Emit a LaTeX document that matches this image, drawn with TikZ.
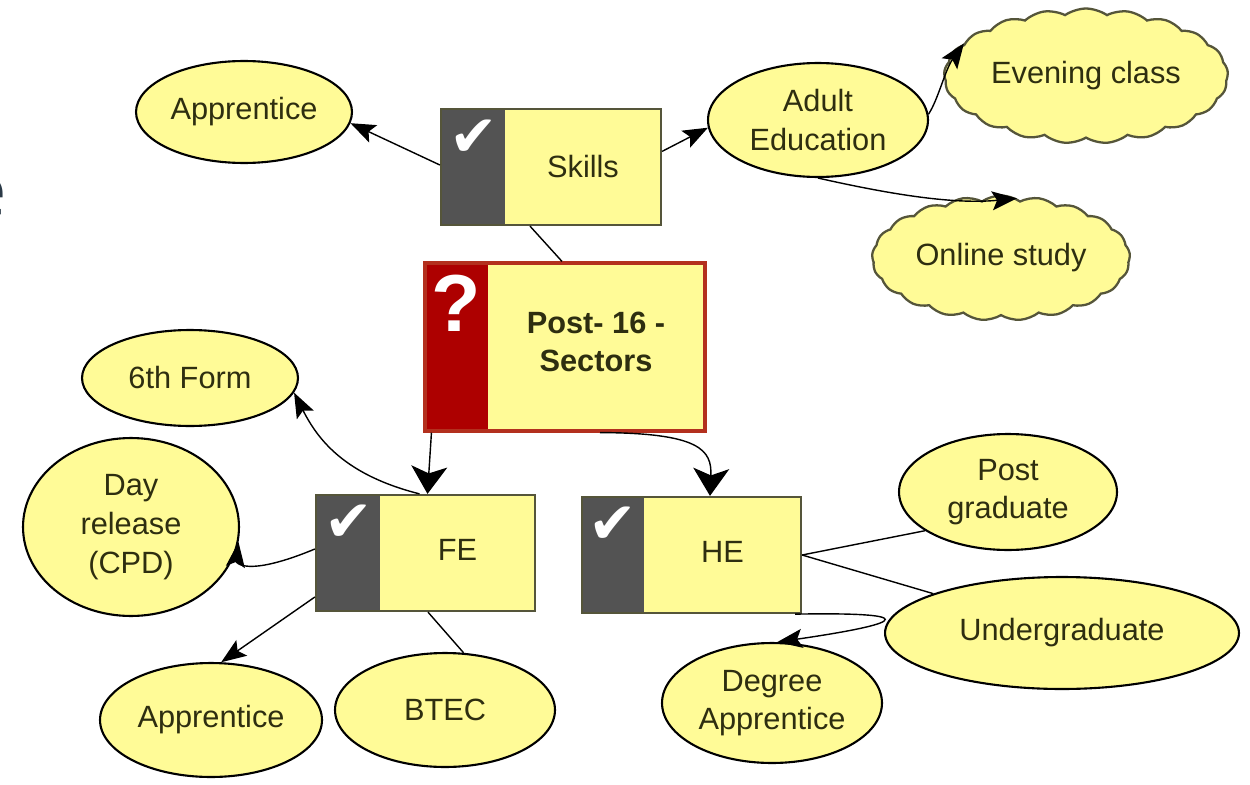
\documentclass[tikz,border=0pt]{standalone}
\usepackage{fontspec}
\setmainfont{Liberation Sans}
\newfontfamily\symfont{DejaVu Sans}
\newfontfamily\slidefont{Open Sans}
\usetikzlibrary{shapes.geometric,shapes.symbols,arrows.meta}
\definecolor{nodeyellow}{HTML}{FFFB97}
\definecolor{stripgray}{HTML}{535353}
\definecolor{boxedge}{HTML}{55553A}
\definecolor{stripred}{HTML}{AD0000}
\definecolor{rededge}{HTML}{B3301E}
\definecolor{cloudedge}{HTML}{55553A}
\definecolor{textcol}{HTML}{2E2E10}
\definecolor{slate}{HTML}{2B3A47}
\newcommand\lblfont{\fontsize{17.5}{22}\selectfont}
\begin{document}
\begin{tikzpicture}[x=0.02cm,y=-0.02cm,
  ell/.style={ellipse, draw=black, line width=1.2pt, fill=nodeyellow, inner sep=0pt,
    align=center, text=textcol, font=\lblfont},
  cl/.style={cloud, cloud puffs=21, cloud puff arc=70, cloud ignores aspect,
    draw=cloudedge, line width=1.3pt, fill=nodeyellow, inner sep=0pt,
    align=center, text=textcol, font=\lblfont},
  box/.style={rectangle, fill=stripgray, draw=boxedge, line width=1.3pt, inner sep=0pt,
    minimum width=4.4cm, minimum height=2.32cm,
    path picture={\fill[nodeyellow] ([xshift=#1]path picture bounding box.north west)
      rectangle (path picture bounding box.south east);}},
  redbox/.style={rectangle, fill=stripred, draw=rededge, line width=1.8pt, inner sep=0pt,
    path picture={\fill[nodeyellow] ([xshift=#1]path picture bounding box.north west)
      rectangle (path picture bounding box.south east);}},
  boxlabel/.style={text=textcol, font=\lblfont, align=center, inner sep=0pt},
  tick/.style={text=white, font=\symfont\fontsize{33}{33}\selectfont, inner sep=0pt},
  conn/.style={draw=black, line width=0.8pt},
  arr/.style={conn, -{Stealth[length=0.5cm,width=0.38cm,inset=0.1cm]}},
  bigarr/.style={conn, -{Stealth[length=0.55cm,width=0.72cm,inset=0.14cm]}}
]
\useasboundingbox (0,0) rectangle (1250,784);
\fill[white] (0,0) rectangle (1250,784);

% cut-off slide letter at left edge
\node[anchor=base east, inner sep=0pt, text=slate, font=\slidefont\fontsize{42}{42}\selectfont] (edgee) at (7,216) {e};

% boxes
\node[box=1.28cm] (skills) at (551,167) {};
\node[boxlabel] (skillsL) at ([xshift=0.64cm]skills.center) {Skills};
\node[tick] (skillsT) at (474,138) {\char"2714};

\node[redbox=1.26cm, minimum width=5.6cm, minimum height=3.36cm] (post16) at (565,347) {};
\node[boxlabel, font=\lblfont\bfseries] (post16L) at ([xshift=0.62cm,yshift=0.1cm]post16.center) {Post- 16 -\\Sectors};
\node[text=white, inner sep=0pt, font=\bfseries\fontsize{46}{46}\selectfont] (qmark) at (456,303) {?};

\node[box=1.28cm, minimum width=4.38cm] (fe) at (425.5,553) {};
\node[boxlabel] (feL) at ([xshift=0.64cm,yshift=0.06cm]fe.center) {FE};
\node[tick] (feT) at (349,523) {\char"2714};

\node[box=1.24cm, minimum width=4.38cm] (he) at (691.5,555) {};
\node[boxlabel] (heL) at ([xshift=0.62cm,yshift=0.06cm]he.center) {HE};
\node[tick] (heT) at (613,525) {\char"2714};

% ellipses
\node[ell, minimum width=4.32cm, minimum height=2.04cm] (appT) at (244,112) {Apprentice};
\node[ell, minimum width=4.4cm, minimum height=2.28cm] (adult) at (818,120) {Adult\\Education};
\node[cl, minimum width=5.68cm, minimum height=2.7cm] (evening) at (1086,76) {Evening class};
\node[cl, minimum width=5.16cm, minimum height=2.5cm] (online) at (1001,258) {Online study};
\node[ell, minimum width=4.32cm, minimum height=1.92cm] (sixth) at (190,378) {6th Form};
\node[ell, minimum width=4.32cm, minimum height=3.56cm] (day) at (131,527) {Day\\release\\(CPD)};
\node[ell, minimum width=4.44cm, minimum height=2.28cm] (appB) at (211,720) {Apprentice};
\node[ell, minimum width=4.4cm, minimum height=2.28cm] (btec) at (445,710) {BTEC};
\node[ell, minimum width=4.36cm, minimum height=2.32cm] (postg) at (1008,492) {Post\\graduate};
\node[ell, minimum width=7.08cm, minimum height=2.24cm] (under) at (1062,633) {Undergraduate};
\node[ell, minimum width=4.4cm, minimum height=2.4cm] (degree) at (772,703) {Degree\\Apprentice};

% connectors
\draw[arr] ([yshift=0.04cm]skills.west) -- (appT.-6);
\draw[arr] (skills.8) -- (adult.184);
\draw[conn] ([xshift=-0.42cm]skills.south) -- ([xshift=-0.06cm]post16.north);
\draw[arr] (adult.3) .. controls (938,100) and (945,70) .. (evening.165);
\draw[arr] (adult.south) .. controls (880,192) and (950,205) .. (online.75);
\draw[bigarr] ([xshift=0.16cm]post16.south west) -- ([xshift=0.04cm]fe.north);
\draw[bigarr] ([xshift=0.7cm]post16.south) .. controls (700,433) and (712,450) .. ([xshift=0.37cm]he.north);
\draw[arr] ([xshift=-0.12cm]fe.north) .. controls (345,475) and (318,440) .. (sixth.-8);
\draw[arr] ([yshift=0.08cm]fe.west) .. controls (245,578) and (236,562) .. (day.-8);
\draw[arr] ([yshift=-0.88cm]fe.west) -- (appB.80);
\draw[conn] ([xshift=0.05cm]fe.south) -- (btec.72);
\draw[conn] (he.east) -- (postg.205);
\draw[conn] (he.east) -- (under.163);
\draw[arr] ([xshift=-0.14cm]he.south east) .. controls (915,612) and (915,622) .. (degree.85);
\end{tikzpicture}
\end{document}
